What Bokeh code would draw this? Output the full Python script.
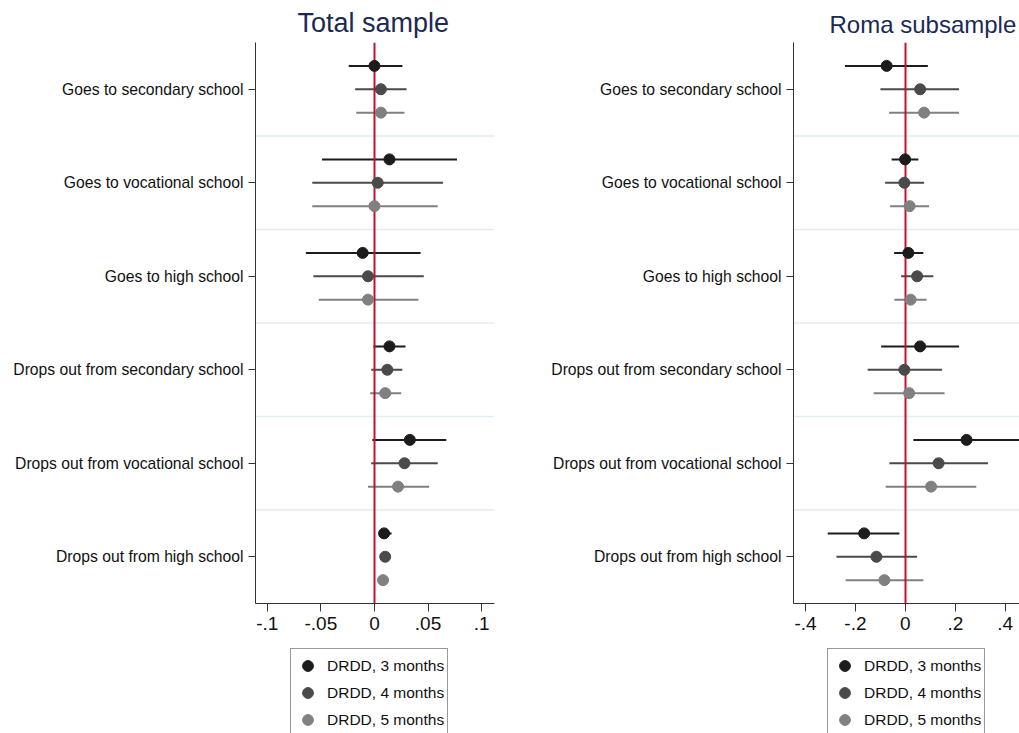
from bokeh.plotting import figure
from bokeh.models import (ColumnDataSource, FactorRange, Range1d, FixedTicker,
                          Legend, LegendItem)
from bokeh.transform import dodge
from bokeh.layouts import row, column
from bokeh.embed import file_html
from bokeh.resources import INLINE

FONT = "Liberation Sans"

categories = [
    "Goes to secondary school",
    "Goes to vocational school",
    "Goes to high school",
    "Drops out from secondary school",
    "Drops out from vocational school",
    "Drops out from high school",
]
series_labels = ["DRDD, 3 months", "DRDD, 4 months", "DRDD, 5 months"]
series_colors = ["#1c1c1c", "#4a4a4a", "#808080"]
series_offsets = [0.25, 0.0, -0.25]

# Total sample: point estimates and confidence bounds
total_m3_est = [0.000, 0.014, -0.011, 0.014, 0.033, 0.009]
total_m3_lo = [-0.024, -0.049, -0.064, -0.001, -0.002, 0.004]
total_m3_hi = [0.026, 0.077, 0.043, 0.029, 0.067, 0.016]
total_m4_est = [0.006, 0.003, -0.006, 0.012, 0.028, 0.010]
total_m4_lo = [-0.018, -0.058, -0.057, -0.003, -0.003, 0.007]
total_m4_hi = [0.030, 0.064, 0.046, 0.026, 0.059, 0.013]
total_m5_est = [0.006, 0.000, -0.006, 0.010, 0.022, 0.008]
total_m5_lo = [-0.017, -0.058, -0.052, -0.004, -0.006, 0.005]
total_m5_hi = [0.028, 0.059, 0.041, 0.025, 0.051, 0.010]

# Roma subsample: point estimates and confidence bounds
roma_m3_est = [-0.075, -0.001, 0.012, 0.059, 0.245, -0.165]
roma_m3_lo = [-0.242, -0.055, -0.045, -0.097, 0.032, -0.311]
roma_m3_hi = [0.090, 0.052, 0.072, 0.215, 0.470, -0.024]
roma_m4_est = [0.059, -0.004, 0.047, -0.004, 0.133, -0.116]
roma_m4_lo = [-0.100, -0.081, -0.017, -0.151, -0.064, -0.276]
roma_m4_hi = [0.215, 0.075, 0.112, 0.147, 0.331, 0.047]
roma_m5_est = [0.075, 0.017, 0.021, 0.015, 0.103, -0.084]
roma_m5_lo = [-0.065, -0.061, -0.044, -0.127, -0.079, -0.239]
roma_m5_hi = [0.215, 0.095, 0.085, 0.157, 0.284, 0.072]

total_ticks = [-0.1, -0.05, 0.0, 0.05, 0.1]
total_tick_labels = ["-.1", "-.05", "0", ".05", ".1"]
roma_ticks = [-0.4, -0.2, 0.0, 0.2, 0.4]
roma_tick_labels = ["-.4", "-.2", "0", ".2", ".4"]


def coef_panel(title, series, x_bounds, ticks, tick_labels, width,
               border_left, border_right, title_offset, title_size):
    p = figure(
        width=width, height=640,
        y_range=FactorRange(factors=categories[::-1]),
        x_range=Range1d(*x_bounds),
        output_backend="svg", toolbar_location=None,
        min_border_left=border_left, min_border_right=border_right,
        min_border_top=42, min_border_bottom=37,
    )
    p.outline_line_color = None
    p.xgrid.visible = False
    p.ygrid.visible = False

    p.title.text = title
    p.title.text_font = FONT
    p.title.text_font_size = title_size
    p.title.text_font_style = "normal"
    p.title.text_color = "#1b2a55"
    p.title.align = "left"
    p.title.offset = title_offset

    # light separators between outcome groups
    sep = ColumnDataSource(dict(cat=categories[:-1]))
    p.segment(x0=x_bounds[0], x1=x_bounds[1],
              y0=dodge("cat", -0.5, range=p.y_range),
              y1=dodge("cat", -0.5, range=p.y_range),
              source=sep, line_color="#e3ecf0", line_width=1.5)

    sources = []
    for (est, lo, hi), color, off in zip(series, series_colors, series_offsets):
        src = ColumnDataSource(dict(cat=categories, est=est, lo=lo, hi=hi))
        sources.append(src)
        p.segment(x0="lo", x1="hi",
                  y0=dodge("cat", off, range=p.y_range),
                  y1=dodge("cat", off, range=p.y_range),
                  source=src, line_color=color, line_width=2)

    p.vspan(x=[0], line_color="#c8102e", line_width=2)

    for src, color, off in zip(sources, series_colors, series_offsets):
        p.scatter(x="est", y=dodge("cat", off, range=p.y_range),
                  source=src, size=11, fill_color=color, line_color=color)

    xa = p.xaxis[0]
    xa.ticker = FixedTicker(ticks=ticks)
    xa.major_label_overrides = {t: s for t, s in zip(ticks, tick_labels)}
    xa.major_label_text_font = FONT
    xa.major_label_text_font_size = "19px"
    xa.major_label_text_color = "#111111"
    xa.major_tick_out = 8
    xa.major_tick_in = 0
    xa.minor_tick_line_color = None
    xa.axis_line_color = "#333333"
    xa.major_tick_line_color = "#333333"
    xa.major_label_standoff = 5

    ya = p.yaxis[0]
    ya.major_label_text_font = FONT
    ya.major_label_text_font_size = "15.7px"
    ya.major_label_text_color = "#111111"
    ya.major_tick_out = 7
    ya.major_tick_in = 0
    ya.axis_line_color = "#333333"
    ya.major_tick_line_color = "#333333"
    ya.major_label_standoff = 5
    return p


def legend_strip(width, border_left, border_right):
    q = figure(
        width=width, height=93,
        x_range=Range1d(0, 1), y_range=Range1d(0, 1),
        output_backend="svg", toolbar_location=None,
        min_border_left=border_left, min_border_right=border_right,
        min_border_top=8, min_border_bottom=0,
    )
    q.outline_line_color = None
    q.axis.visible = False
    q.grid.visible = False
    # hidden key renderers: they only supply the legend swatches
    keys = []
    for color in series_colors:
        keys.append(q.scatter(x=[0], y=[0], size=11, visible=False,
                              fill_color=color, line_color=color))
    legend = Legend(
        items=[LegendItem(label=lab, renderers=[r])
               for lab, r in zip(series_labels, keys)],
        location="top_left", orientation="vertical",
        label_text_font=FONT, label_text_font_size="15.5px",
        label_text_color="#111111",
        glyph_width=27, glyph_height=27, label_height=27,
        label_standoff=6, spacing=0, padding=3, margin=0,
        border_line_color="#333333", border_line_width=1,
        background_fill_color="white", background_fill_alpha=1.0,
        inactive_fill_alpha=0.0,
    )
    q.add_layout(legend, "center")
    return q


left = coef_panel(
    "Total sample",
    [(total_m3_est, total_m3_lo, total_m3_hi),
     (total_m4_est, total_m4_lo, total_m4_hi),
     (total_m5_est, total_m5_lo, total_m5_hi)],
    (-0.111, 0.112), total_ticks, total_tick_labels,
    width=509, border_left=255, border_right=15, title_offset=42,
    title_size="27px",
)
right = coef_panel(
    "Roma subsample",
    [(roma_m3_est, roma_m3_lo, roma_m3_hi),
     (roma_m4_est, roma_m4_lo, roma_m4_hi),
     (roma_m5_est, roma_m5_lo, roma_m5_hi)],
    (-0.448, 0.457), roma_ticks, roma_tick_labels,
    width=510, border_left=284, border_right=0, title_offset=36,
    title_size="24px",
)

left_key = legend_strip(509, 290, 0)
right_key = legend_strip(510, 318, 0)

layout = column(row(left, right, spacing=0),
                row(left_key, right_key, spacing=0), spacing=0)
open("out.html", "w").write(file_html(layout, INLINE))
